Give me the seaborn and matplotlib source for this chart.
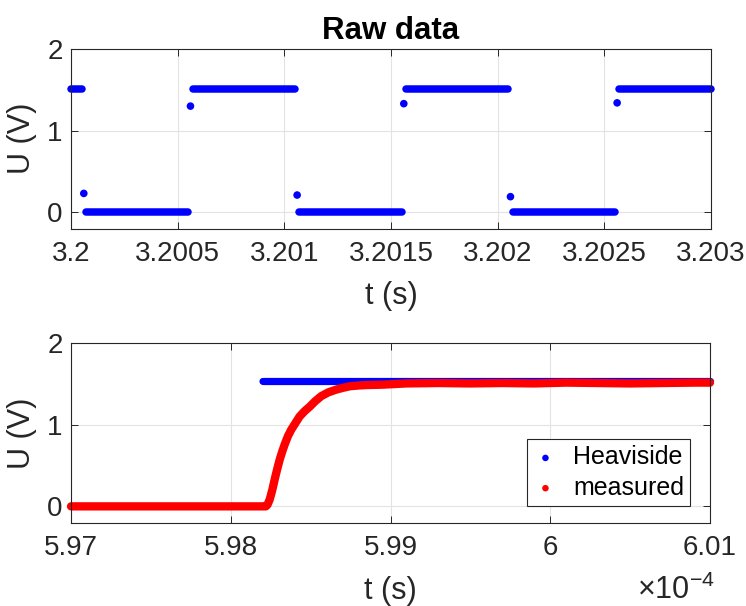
import numpy as np
import pandas as pd
import matplotlib
matplotlib.use("Agg")
import matplotlib.pyplot as plt
import seaborn as sns
from matplotlib.ticker import FuncFormatter

# ---------------- data: top panel (raw square wave) ----------------
seg_start = [3.20000, 3.20007, 3.20057, 3.20107, 3.20157, 3.20207, 3.20257]
seg_end   = [3.20005, 3.20055, 3.20105, 3.20155, 3.20205, 3.20255, 3.20300]
seg_level = [1.515, 0.0, 1.515, 0.0, 1.515, 0.0, 1.515]

spike_t = [3.20006, 3.20056, 3.20106, 3.20156, 3.20206, 3.20256]
spike_u = [0.23, 1.30, 0.21, 1.33, 0.19, 1.34]

top_xticks = [3.2, 3.2005, 3.201, 3.2015, 3.202, 3.2025, 3.203]
top_xlabels = ["3.2", "3.2005", "3.201", "3.2015", "3.202", "3.2025", "3.203"]

# ---------------- data: bottom panel (step response) ----------------
heav_t = [5.9820e-4, 6.0100e-4]
heav_u = [1.53, 1.53]

meas_t = [5.9700, 5.9750, 5.9800, 5.9822, 5.98230, 5.98244, 5.98260, 5.98275,
          5.98290, 5.98306, 5.98322, 5.98338, 5.98358, 5.98379, 5.98405,
          5.98431, 5.98462, 5.98494, 5.98530, 5.98567, 5.98610, 5.98661,
          5.98700, 5.98744, 5.98800, 5.98850, 5.98952, 5.99098, 5.9930,
          5.9950, 5.9970, 5.9990, 6.0010, 6.0030, 6.0050, 6.0070, 6.0090,
          6.0100]
meas_t = [v * 1e-4 for v in meas_t]
meas_u = [0.0, 0.0, 0.0, 0.0, 0.02, 0.085, 0.20, 0.33,
          0.45, 0.57, 0.67, 0.76, 0.86, 0.94, 1.02,
          1.10, 1.165, 1.22, 1.29, 1.35, 1.395, 1.43,
          1.45, 1.47, 1.48, 1.485, 1.49, 1.505, 1.51,
          1.505, 1.51, 1.505, 1.515, 1.51, 1.505, 1.51, 1.515,
          1.515]

bot_xticks = [5.97e-4, 5.98e-4, 5.99e-4, 6.00e-4, 6.01e-4]

# ---------------- style ----------------
sns.set_style("ticks")
plt.rcParams["font.family"] = ["Liberation Sans", "DejaVu Sans"]
plt.rcParams["mathtext.fontset"] = "custom"
plt.rcParams["mathtext.rm"] = "Liberation Sans"
plt.rcParams["mathtext.it"] = "Liberation Sans"

AX = "#262626"
GRID = "#e3e3e3"
BLUE = (0, 0, 1)
RED = (1, 0, 0)

fig = plt.figure(figsize=(7.46, 6.06), dpi=100)
ax1 = fig.add_axes([71 / 746, 1 - 228.5 / 606, 640 / 746, 179.5 / 606])
ax2 = fig.add_axes([71 / 746, 1 - 522.7 / 606, 639 / 746, 179.7 / 606])


def style_axes(ax):
    for s in ax.spines.values():
        s.set_color(AX)
        s.set_linewidth(0.8)
    ax.tick_params(direction="in", top=True, right=True, length=5, width=0.7,
                   colors=AX, labelsize=20)
    ax.tick_params(axis="x", pad=9)
    ax.tick_params(axis="y", pad=6)
    ax.grid(True, color=GRID, linewidth=0.8)
    ax.set_axisbelow(True)


# ---- top ----
seg_rows = []
for i, (a, b, lv) in enumerate(zip(seg_start, seg_end, seg_level)):
    seg_rows.append({"t": a, "U": lv, "seg": i})
    seg_rows.append({"t": b, "U": lv, "seg": i})
df_seg = pd.DataFrame(seg_rows)
sns.lineplot(data=df_seg, x="t", y="U", units="seg", estimator=None, ax=ax1,
             color=BLUE, linewidth=5.4, solid_capstyle="round", clip_on=False,
             legend=False)
df_sp = pd.DataFrame({"t": spike_t, "U": spike_u})
sns.scatterplot(data=df_sp, x="t", y="U", ax=ax1, color=BLUE, s=30,
                edgecolor="none", clip_on=False, legend=False)

style_axes(ax1)
ax1.set_xlim(3.2, 3.203)
ax1.set_ylim(-0.2, 2)
ax1.set_xticks(top_xticks)
ax1.set_xticklabels(top_xlabels)
ax1.set_yticks([0, 1, 2])
ax1.set_title("Raw data", fontsize=22.5, fontweight="bold", pad=7, color="black")
ax1.set_xlabel("t (s)", fontsize=22, color=AX)
ax1.set_ylabel("U (V)", fontsize=22, color=AX)
ax1.xaxis.set_label_coords(0.5, -0.295)
ax1.yaxis.set_label_coords(-0.053, 0.5)

# ---- bottom ----
df_h = pd.DataFrame({"t": heav_t, "U": heav_u})
df_m = pd.DataFrame({"t": meas_t, "U": meas_u})
sns.lineplot(data=df_h, x="t", y="U", ax=ax2, color=BLUE, linewidth=5.2,
             solid_capstyle="round", estimator=None, clip_on=False, legend=False)
sns.lineplot(data=df_m, x="t", y="U", ax=ax2, color=RED, linewidth=6.0,
             solid_capstyle="round", solid_joinstyle="round", estimator=None,
             sort=False, clip_on=False, legend=False)
sns.scatterplot(data=df_h[:1], x="t", y="U", ax=ax2, color=BLUE, s=22,
                edgecolor="none", label="Heaviside", clip_on=False)
sns.scatterplot(data=df_m[:1], x="t", y="U", ax=ax2, color=RED, s=22,
                edgecolor="none", label="measured", clip_on=False)

style_axes(ax2)
ax2.set_xlim(5.97e-4, 6.01e-4)
ax2.set_ylim(-0.2, 2)
ax2.set_xticks(bot_xticks)
ax2.xaxis.set_major_formatter(FuncFormatter(lambda v, p: f"{v / 1e-4:.4g}"))
ax2.set_yticks([0, 1, 2])
ax2.set_xlabel("t (s)", fontsize=22, color=AX)
ax2.set_ylabel("U (V)", fontsize=22, color=AX)
ax2.xaxis.set_label_coords(0.5, -0.294)
ax2.yaxis.set_label_coords(-0.053, 0.5)

leg = ax2.legend(loc="lower right", bbox_to_anchor=(0.969, 0.093),
                 borderaxespad=0, fontsize=18, frameon=True, fancybox=False,
                 framealpha=1, edgecolor=AX, handlelength=1.0,
                 handletextpad=0.6, borderpad=0.25, labelspacing=0.25,
                 markerscale=1.0)
leg.get_frame().set_linewidth(0.8)
for txt in leg.get_texts():
    txt.set_color("black")

fig.text(637 / 746, 1 - 590 / 606, r"$\times10^{-4}$", fontsize=22, color=AX,
         ha="left", va="center")

fig.savefig("out.png", dpi=100)
